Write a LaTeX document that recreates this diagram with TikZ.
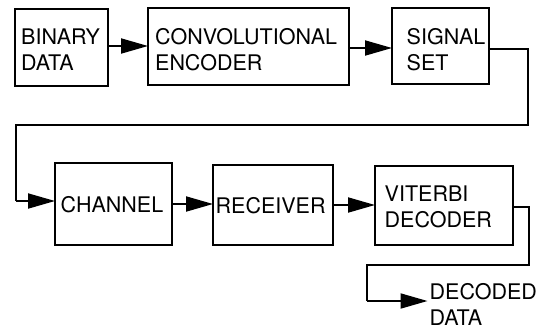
\documentclass[tikz,border=0pt]{standalone}
\usepackage{fontspec}
\setmainfont{TeX Gyre Heros}
\usetikzlibrary{arrows.meta}
\begin{document}
\begin{tikzpicture}[x=1pt,y=-1pt,
  box/.style={draw=black, line width=1.9pt, inner sep=0pt, outer sep=0pt, anchor=north west},
  txt/.style={inner sep=0pt, anchor=base west, align=left, font=\fontsize{21.5}{26}\selectfont},
  arr/.style={line width=1.9pt, -{Triangle[length=27pt,width=15pt]}},
  wire/.style={line width=1.9pt}]
\useasboundingbox (0,0) rectangle (537,330);
% boxes
\node[box, minimum width=93pt, minimum height=77pt] (bin) at (15,9) {};
\node[box, minimum width=201pt, minimum height=77pt] (enc) at (148,8) {};
\node[box, minimum width=97pt, minimum height=76pt] (sig) at (392,8) {};
\node[box, minimum width=117pt, minimum height=82pt] (chan) at (55,163) {};
\node[box, minimum width=120pt, minimum height=80pt] (rec) at (213,165) {};
\node[box, minimum width=138pt, minimum height=79pt] (vit) at (375,166) {};
% texts (anchored at the baseline of their last line)
\node[txt] (binT) at (21,70.5) {BINARY\\DATA};
\node[txt] (encT) at (155,70) {CONVOLUTIONAL\\ENCODER};
\node[txt] (sigT) at (406.5,70.5) {SIGNAL\\SET};
\node[txt] (chanT) at (60.5,212.5) {CHANNEL};
\node[txt] (recT) at (215.5,213) {RECEIVER};
\node[txt] (vitT) at (384.5,227.5) {VITERBI\\DECODER};
\node[txt] (dec) at (429.5,325) {DECODED\\DATA};
% routing points
\coordinate (r1) at (528,125);
\coordinate (l1) at (16,125);
\coordinate (r2) at (529,265);
\coordinate (l2) at (367,265);
\coordinate (decin) at ([yshift=24pt]dec.base west);
% connectors
\draw[arr] (bin.east |- 0,46) -- (enc.west |- 0,46);
\draw[arr] (enc.east |- 0,48) -- (sig.west |- 0,48);
\draw[wire] (sig.east |- 0,49) -- (r1 |- 0,49) -- (r1) -- (l1) -- (l1 |- 0,201);
\draw[arr] (l1 |- 0,201) -- (chan.west |- 0,201);
\draw[arr] (chan.east |- 0,204) -- (rec.west |- 0,204);
\draw[arr] (rec.east |- 0,205) -- (vit.west |- 0,205);
\draw[wire] (vit.east |- 0,207) -- (r2 |- 0,207) -- (r2) -- (l2) -- (l2 |- decin);
\draw[arr, shorten >=2pt] (l2 |- decin) -- (decin);
\end{tikzpicture}
\end{document}
